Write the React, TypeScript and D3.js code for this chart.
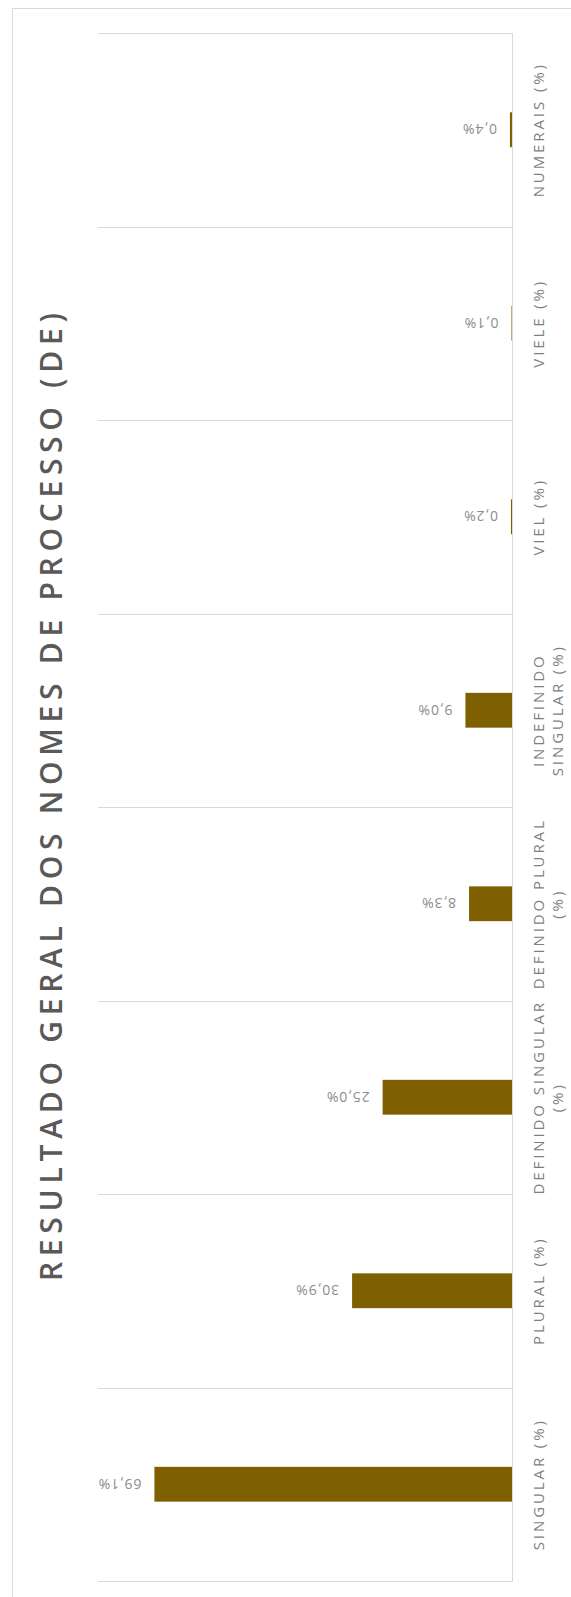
import React from "react";
import * as d3 from "d3";

const categories = [
  "SINGULAR (%)",
  "PLURAL (%)",
  "DEFINIDO SINGULAR (%)",
  "DEFINIDO PLURAL (%)",
  "INDEFINIDO SINGULAR (%)",
  "VIEL (%)",
  "VIELE (%)",
  "NUMERAIS (%)",
];
const categoryLines = [
  ["SINGULAR (%)"],
  ["PLURAL (%)"],
  ["DEFINIDO SINGULAR", "(%)"],
  ["DEFINIDO PLURAL", "(%)"],
  ["INDEFINIDO", "SINGULAR (%)"],
  ["VIEL (%)"],
  ["VIELE (%)"],
  ["NUMERAIS (%)"],
];
const values = [69.1, 30.9, 25.0, 8.3, 9.0, 0.2, 0.1, 0.4];
const valueDomain = [0, 80];
const title = "RESULTADO GERAL DOS NOMES DE PROCESSO (DE)";

const W = 571;
const H = 1597;
const FONT = "'Open Sans', 'DejaVu Sans', sans-serif";

export default function App() {
  const axisX = 512;
  const plotLeft = 98;
  const top = 33;
  const bottom = 1581;

  const y = d3.scaleBand<string>().domain(categories).range([bottom, top]).padding(0);
  const x = d3.scaleLinear().domain(valueDomain).range([axisX, plotLeft]);
  const barH = y.bandwidth() * 0.18;
  const fmt = (v: number) => v.toFixed(1).replace(".", ",") + "%";

  const boundaries = categories.map((c) => y(c)!).concat([y(categories[0])! + y.bandwidth()]);

  return (
    <div style={{ position: "absolute", left: 0, top: 0, width: W, height: H, background: "#fff" }}>
      <svg width={W} height={H} style={{ display: "block" }}>
        <rect x={12.5} y={8.5} width={W + 20} height={H + 20} fill="#fff" stroke="#d9d9d9" strokeWidth={1} />
        {boundaries.map((b, i) => (
          <line key={"g" + i} x1={plotLeft} x2={axisX} y1={Math.round(b) + 0.5} y2={Math.round(b) + 0.5} stroke="#d9d9d9" strokeWidth={1} />
        ))}
        {categories.map((c, i) => {
          const cy = y(c)! + y.bandwidth() / 2;
          return (
            <rect
              key={"b" + i}
              x={x(values[i])}
              y={cy - barH / 2}
              width={axisX - x(values[i])}
              height={barH}
              fill="#7f6000"
            />
          );
        })}
        <line x1={axisX + 0.5} x2={axisX + 0.5} y1={top} y2={bottom + 1} stroke="#d9d9d9" strokeWidth={1} />
        {categories.map((c, i) => {
          const cy = y(c)! + y.bandwidth() / 2;
          const lx = x(values[i]) - 13;
          return (
            <text
              key={"v" + i}
              transform={`translate(${lx},${cy}) rotate(180)`}
              textAnchor="start"
              dominantBaseline="central"
              fontFamily={FONT}
              fontSize={14}
              fill="#8c8c8c"
              letterSpacing={0.9}
            >
              {fmt(values[i])}
            </text>
          );
        })}
        {categories.map((c, i) => {
          const cy = y(c)! + y.bandwidth() / 2;
          return categoryLines[i].map((line, j) => (
            <text
              key={"c" + i + "-" + j}
              transform={`translate(${538 + j * 19},${cy}) rotate(-90)`}
              textAnchor="middle"
              dominantBaseline="central"
              fontFamily={FONT}
              fontSize={15}
              fill="#7f7f7f"
              letterSpacing={2.9}
            >
              {line}
            </text>
          ));
        })}
        <text
          transform={`translate(62,797) rotate(-90)`}
          textAnchor="middle"
          fontFamily={FONT}
          fontSize={30}
          fontWeight={600}
          fill="#595959"
          textLength={968}
          lengthAdjust="spacing"
        >
          {title}
        </text>
      </svg>
    </div>
  );
}
